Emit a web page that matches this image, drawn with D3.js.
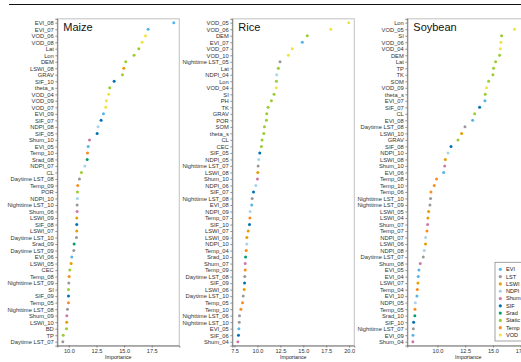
<!DOCTYPE html>
<html><head><meta charset="utf-8">
<script src="https://cdn.jsdelivr.net/npm/d3@7"></script>
<style>body{margin:0;background:#fff;overflow:hidden}svg{display:block;font-family:"Liberation Sans",Arial,sans-serif}</style>
</head><body><svg id="c" width="521" height="362"></svg>
<script>
const maizeLabels = ["EVI_08","EVI_07","VOD_06","VOD_08","Lat","Lon","DEM","LSWI_08","GRAV","SIF_10","theta_s","VOD_04","VOD_09","VOD_07","EVI_09","SIF_07","NDPI_08","SIF_05","Shum_10","EVI_05","Temp_10","Srad_08","NDPI_07","CL","Daytime LST_08","Temp_09","POR","NDPI_10","Nighttime LST_10","Shum_06","LSWI_09","SIF_08","LSWI_07","Daytime LST_10","Srad_09","Daytime LST_09","EVI_06","LSWI_05","CEC","Temp_08","Nighttime LST_09","SI","SIF_09","Temp_05","Nighttime LST_08","Shum_09","LSWI_10","BD","TP","Daytime LST_07"];
const maizeValues = [19.49,17.17,16.93,16.63,16.33,15.90,15.15,14.97,14.85,14.10,13.70,13.61,13.40,13.34,13.13,12.92,12.65,12.56,11.87,11.75,11.69,11.66,11.45,11.14,10.96,10.81,10.78,10.78,10.75,10.75,10.72,10.72,10.72,10.69,10.48,10.45,10.27,10.21,10.09,10.03,10.00,9.97,9.97,9.97,9.88,9.82,9.81,9.79,9.49,9.46];

const riceLabels = ["VOD_05","VOD_06","DEM","EVI_07","VOD_07","VOD_10","Nighttime LST_05","Lat","NDPI_04","Lon","VOD_04","SI","PH","TK","GRAV","POR","SOM","theta_s","CL","CEC","SIF_05","NDPI_05","Nighttime LST_07","LSWI_08","Shum_10","NDPI_06","SIF_07","Nighttime LST_08","EVI_08","NDPI_09","Temp_07","SIF_10","LSWI_07","LSWI_09","NDPI_10","Temp_04","Srad_10","Shum_07","Temp_09","Daytime LST_08","SIF_09","LSWI_06","Daytime LST_10","Temp_05","Temp_10","Nighttime LST_06","Nighttime LST_10","EVI_05","SIF_06","Shum_04"];
const riceValues = [19.96,18.00,15.43,14.89,13.80,13.37,12.46,12.28,12.10,12.07,12.05,11.81,11.52,11.16,11.01,10.98,10.76,10.69,10.50,10.43,10.25,10.14,10.07,10.04,10.00,9.82,9.57,9.42,9.38,9.20,9.17,9.13,8.99,8.84,8.84,8.77,8.70,8.66,8.66,8.62,8.59,8.55,8.44,8.37,8.19,8.04,8.01,7.97,7.93,7.86];

const soyLabels = ["Lon","VOD_05","SI","VOD_06","VOD_04","DEM","Lat","TP","TK","SOM","VOD_09","theta_s","EVI_07","SIF_07","CL","EVI_08","Daytime LST_08","LSWI_10","GRAV","SIF_08","NDPI_10","LSWI_08","Shum_10","EVI_06","Temp_08","Temp_10","Temp_06","Nighttime LST_10","Nighttime LST_09","LSWI_05","LSWI_04","Shum_07","Temp_07","NDPI_07","LSWI_06","NDPI_08","Daytime LST_07","Shum_08","EVI_05","EVI_04","LSWI_07","Temp_04","EVI_10","NDPI_05","Temp_05","Srad_10","SIF_10","Nighttime LST_07","EVI_09","Shum_04"];
const soyValues = [17.78,16.95,15.78,15.72,15.66,15.60,15.24,15.06,15.00,14.61,14.43,14.31,14.28,13.80,13.35,13.17,12.48,12.18,11.85,11.22,10.95,10.71,10.65,10.56,9.92,9.71,9.41,9.38,9.32,9.20,9.14,9.11,9.05,8.93,8.92,8.81,8.72,8.45,8.33,8.27,8.24,8.18,8.15,8.00,7.97,7.96,7.85,7.82,7.79,7.78];

const cropTitles = ["Maize","Rice","Soybean"];
const maizeTicks = [10,12.5,15,17.5];
const riceTicks = [7.5,10,12.5,15,17.5,20];
const soyTicks = [10,12.5,15,17.5];
const xTitle = "Importance";

const legendGroups = ["EVI","LST","LSWI","NDPI","Shum","SIF","Srad","Static","Temp","VOD"];
const groupColors = ["#56B4E9","#999999","#E69F00","#A6D4EC","#CC79A7","#0072B2","#009E73","#9ACD32","#F98C1F","#F0E442"];

function groupOf(name){
  if (name.indexOf("LST") >= 0) return "LST";
  const p = name.split("_")[0];
  return legendGroups.indexOf(p) >= 0 && p !== "Static" ? p : "Static";
}
const color = d3.scaleOrdinal().domain(legendGroups).range(groupColors);

const svg = d3.select("#c");
svg.append("line").attr("x1",9).attr("x2",521).attr("y1",4.5).attr("y2",4.5)
  .attr("stroke","#111").attr("stroke-width",1);

const panels = [
  {title:cropTitles[0], labels:maizeLabels, values:maizeValues, ticks:maizeTicks, left:57.3},
  {title:cropTitles[1], labels:riceLabels, values:riceValues, ticks:riceTicks, left:232.3},
  {title:cropTitles[2], labels:soyLabels, values:soyValues, ticks:soyTicks, left:407.3}
];
const pw = 122, panelTop = 18.8, panelBottom = 345.6;

panels.forEach(p => {
  const mn = d3.min(p.values), mx = d3.max(p.values), r = mx - mn;
  const x = d3.scaleLinear().domain([mn - 0.05*r, mx + 0.05*r]).range([p.left, p.left + pw]);
  const y = d3.scalePoint().domain(p.labels).range([panelTop, panelBottom]).padding(0.6);
  const g = svg.append("g");
  g.append("rect").attr("x",p.left).attr("y",panelTop).attr("width",pw).attr("height",panelBottom-panelTop)
    .attr("fill","#fff").attr("stroke","#c6c6c6").attr("stroke-width",1.1);

  const ya = g.append("g").attr("transform",`translate(${p.left},0)`)
    .call(d3.axisLeft(y).tickSize(2).tickPadding(1.5));
  ya.select(".domain").attr("stroke","#555").attr("stroke-width",0.7);
  ya.selectAll(".tick line").attr("stroke","#555").attr("stroke-width",0.6);
  ya.selectAll(".tick text").attr("font-size","5.8px").attr("fill","#333")
    .attr("font-family",'"Liberation Sans",Arial,sans-serif');

  const xa = g.append("g").attr("transform",`translate(0,${panelBottom})`)
    .call(d3.axisBottom(x).tickValues(p.ticks).tickFormat(d3.format(".1f")).tickSize(2).tickPadding(1.2));
  xa.select(".domain").attr("stroke","#555").attr("stroke-width",0.7);
  xa.selectAll(".tick line").attr("stroke","#555").attr("stroke-width",0.6);
  xa.selectAll(".tick text").attr("font-size","5.6px").attr("fill","#333")
    .attr("font-family",'"Liberation Sans",Arial,sans-serif');

  g.append("text").attr("x",p.left + pw/2).attr("y",359).attr("text-anchor","middle")
    .attr("font-size","5.3px").attr("fill","#222").text(xTitle);

  g.append("text").attr("x",p.left + 6).attr("y",30.6).attr("font-size","11px")
    .attr("fill","#111").text(p.title);

  g.selectAll("circle").data(p.labels.map((l,i)=>({l, v:p.values[i]})))
    .join("circle").attr("cx",d=>x(d.v)).attr("cy",d=>y(d.l)).attr("r",1.5)
    .attr("fill",d=>color(groupOf(d.l)));
});

// legend
const lg = svg.append("g");
lg.append("rect").attr("x",495).attr("y",262.3).attr("width",40).attr("height",78.7)
  .attr("fill","#fff").attr("stroke","#8c8c8c").attr("stroke-width",0.8);
const ly = d3.scalePoint().domain(legendGroups).range([269.3,335]);
legendGroups.forEach(gname => {
  lg.append("circle").attr("cx",500.3).attr("cy",ly(gname)).attr("r",1.6).attr("fill",color(gname));
  lg.append("text").attr("x",506).attr("y",ly(gname)).attr("dy","0.35em")
    .attr("font-size","5.6px").attr("fill","#222").text(gname);
});
</script></body></html>
